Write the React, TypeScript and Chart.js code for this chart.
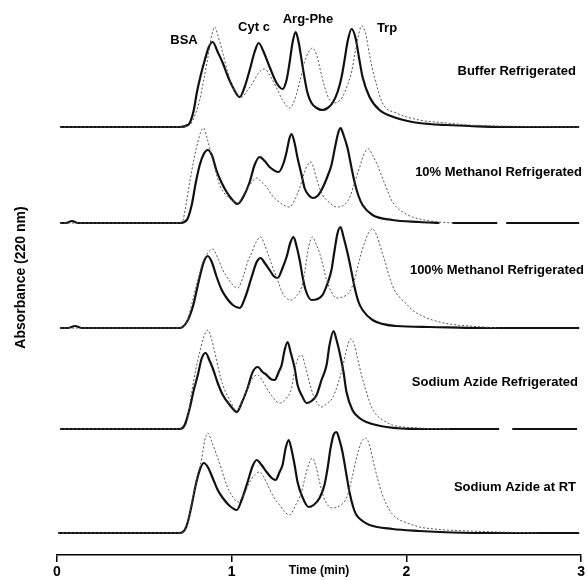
import React, { useEffect, useRef } from "react";
import { Chart, registerables } from "chart.js";

Chart.register(...registerables);

type P = [number, number | null];

// Trace names (right-hand labels) and peak names (top labels)
const traceNames = [
  "Buffer Refrigerated",
  "10% Methanol Refrigerated",
  "100% Methanol Refrigerated",
  "Sodium Azide Refrigerated",
  "Sodium Azide at RT",
];
const peakNames = ["BSA", "Cyt c", "Arg-Phe", "Trp"];

// vertical offsets of each stacked chromatogram (absorbance units)
const traceOffsets = [4.28, 3.32, 2.27, 1.26, 0.22];

const xTicks = [0, 1, 2, 3];

// [time (min), absorbance above baseline]
const bufferSolid: P[] = [
  [0.017, 0], [0.36, 0], [0.703, 0], [0.749, 0.02], [0.76, 0.04], [0.783, 0.17], [0.8, 0.34], [0.823, 0.52],
  [0.846, 0.67], [0.869, 0.8], [0.891, 0.85], [0.92, 0.75], [0.949, 0.64], [0.977, 0.51], [1.006, 0.4],
  [1.046, 0.3], [1.074, 0.4], [1.103, 0.57], [1.131, 0.75], [1.154, 0.84], [1.183, 0.75], [1.217, 0.6],
  [1.257, 0.44], [1.291, 0.38], [1.314, 0.47], [1.331, 0.64], [1.349, 0.85], [1.366, 0.95], [1.383, 0.85],
  [1.4, 0.67], [1.417, 0.49], [1.434, 0.34], [1.457, 0.24], [1.486, 0.19], [1.52, 0.17], [1.549, 0.19],
  [1.577, 0.24], [1.606, 0.35], [1.629, 0.5], [1.646, 0.67], [1.663, 0.85], [1.686, 0.98], [1.709, 0.89],
  [1.731, 0.67], [1.749, 0.5], [1.789, 0.3], [1.846, 0.17], [1.943, 0.09], [2.034, 0.05], [2.131, 0.03],
  [2.229, 0.02], [2.36, 0.01], [2.531, 0], [2.76, 0], [2.989, 0],
];
const bufferDotted: P[] = [
  [0.017, 0], [0.703, 0], [0.76, 0.02], [0.794, 0.14], [0.817, 0.27], [0.84, 0.47], [0.863, 0.69],
  [0.886, 0.92], [0.903, 1.0], [0.92, 0.92], [0.949, 0.74], [0.977, 0.55], [1.006, 0.4], [1.057, 0.3],
  [1.091, 0.37], [1.12, 0.44], [1.154, 0.54], [1.189, 0.58], [1.217, 0.52], [1.257, 0.39], [1.291, 0.27],
  [1.331, 0.19], [1.36, 0.27], [1.389, 0.45], [1.417, 0.65], [1.44, 0.75], [1.463, 0.79], [1.486, 0.72],
  [1.514, 0.52], [1.543, 0.34], [1.577, 0.24], [1.606, 0.25], [1.634, 0.3], [1.663, 0.42], [1.686, 0.55],
  [1.709, 0.77], [1.726, 0.92], [1.743, 1.01], [1.766, 0.94], [1.789, 0.72], [1.817, 0.5], [1.863, 0.24],
  [1.943, 0.14], [2.074, 0.07], [2.229, 0.04], [2.36, 0.02], [2.531, 0.01], [2.989, 0],
];

const methanol10Solid: P[] = [
  [0.017, 0], [0.051, 0], [0.086, 0.02], [0.12, 0], [0.703, 0], [0.743, 0.03], [0.771, 0.18], [0.794, 0.4],
  [0.817, 0.58], [0.84, 0.69], [0.863, 0.73], [0.886, 0.68], [0.914, 0.52], [0.943, 0.4], [0.971, 0.31],
  [1.0, 0.24], [1.034, 0.19], [1.069, 0.27], [1.103, 0.41], [1.131, 0.58], [1.16, 0.66], [1.189, 0.62],
  [1.217, 0.56], [1.269, 0.51], [1.297, 0.6], [1.314, 0.71], [1.331, 0.85], [1.343, 0.89], [1.36, 0.8],
  [1.377, 0.65], [1.4, 0.48], [1.417, 0.35], [1.44, 0.28], [1.463, 0.25], [1.491, 0.27], [1.52, 0.35],
  [1.549, 0.47], [1.571, 0.58], [1.594, 0.78], [1.611, 0.91], [1.623, 0.95], [1.64, 0.88], [1.663, 0.75],
  [1.686, 0.55], [1.703, 0.41], [1.726, 0.27], [1.749, 0.18], [1.806, 0.08], [1.92, 0.03], [2.074, 0.01],
  [2.189, 0], [2.226, null], [2.263, 0], [2.52, 0], [2.543, null], [2.571, 0], [2.989, 0],
];
const methanol10Dotted: P[] = [
  [0.017, 0], [0.703, 0], [0.72, 0.02], [0.731, 0.11], [0.76, 0.41], [0.783, 0.63], [0.806, 0.81],
  [0.823, 0.91], [0.84, 0.95], [0.857, 0.86], [0.874, 0.75], [0.903, 0.55], [0.931, 0.38], [0.971, 0.27],
  [1.0, 0.23], [1.034, 0.2], [1.063, 0.27], [1.091, 0.35], [1.12, 0.42], [1.143, 0.45], [1.171, 0.41],
  [1.2, 0.36], [1.229, 0.28], [1.257, 0.23], [1.297, 0.18], [1.331, 0.16], [1.36, 0.23], [1.389, 0.35],
  [1.417, 0.51], [1.434, 0.58], [1.451, 0.61], [1.469, 0.55], [1.491, 0.41], [1.52, 0.28], [1.543, 0.23],
  [1.577, 0.18], [1.6, 0.16], [1.634, 0.17], [1.674, 0.25], [1.703, 0.4], [1.731, 0.55], [1.76, 0.7],
  [1.783, 0.74], [1.806, 0.68], [1.834, 0.58], [1.863, 0.45], [1.886, 0.35], [1.914, 0.23], [1.943, 0.16],
  [1.989, 0.1], [2.034, 0.06], [2.103, 0.03], [2.189, 0.01], [2.274, 0],
];

const methanol100Solid: P[] = [
  [0.017, 0], [0.063, 0], [0.103, 0.02], [0.143, 0], [0.703, 0], [0.743, 0.06], [0.777, 0.21], [0.8, 0.38],
  [0.817, 0.51], [0.84, 0.66], [0.863, 0.72], [0.886, 0.66], [0.914, 0.51], [0.943, 0.38], [0.971, 0.3],
  [1.006, 0.23], [1.046, 0.2], [1.08, 0.32], [1.114, 0.51], [1.143, 0.66], [1.166, 0.7], [1.189, 0.65],
  [1.217, 0.58], [1.24, 0.52], [1.263, 0.5], [1.291, 0.6], [1.314, 0.71], [1.337, 0.86], [1.354, 0.91],
  [1.371, 0.82], [1.389, 0.68], [1.406, 0.51], [1.423, 0.38], [1.457, 0.28], [1.491, 0.29], [1.52, 0.33],
  [1.549, 0.45], [1.571, 0.58], [1.589, 0.78], [1.606, 0.95], [1.623, 1.01], [1.64, 0.91], [1.663, 0.75],
  [1.686, 0.56], [1.703, 0.41], [1.726, 0.26], [1.749, 0.18], [1.806, 0.08], [1.943, 0.02], [2.131, 0.01],
  [2.417, 0], [2.989, 0],
];
const methanol100Dotted: P[] = [
  [0.017, 0], [0.703, 0], [0.743, 0.06], [0.777, 0.28], [0.806, 0.48], [0.834, 0.65], [0.863, 0.75],
  [0.891, 0.79], [0.92, 0.7], [0.949, 0.58], [0.989, 0.47], [1.034, 0.4], [1.069, 0.53], [1.091, 0.66],
  [1.114, 0.75], [1.137, 0.85], [1.166, 0.91], [1.189, 0.83], [1.206, 0.75], [1.234, 0.61], [1.257, 0.51],
  [1.291, 0.35], [1.32, 0.29], [1.343, 0.28], [1.371, 0.32], [1.4, 0.41], [1.417, 0.55], [1.434, 0.75],
  [1.451, 0.88], [1.463, 0.91], [1.48, 0.85], [1.503, 0.75], [1.526, 0.6], [1.543, 0.48], [1.571, 0.36],
  [1.6, 0.3], [1.634, 0.31], [1.674, 0.36], [1.703, 0.48], [1.731, 0.68], [1.76, 0.85], [1.783, 0.95],
  [1.806, 0.99], [1.829, 0.93], [1.857, 0.78], [1.88, 0.65], [1.903, 0.51], [1.931, 0.38], [1.96, 0.31],
  [2.0, 0.24], [2.034, 0.18], [2.091, 0.12], [2.149, 0.08], [2.246, 0.04], [2.36, 0.02], [2.531, 0],
];

const azideRefSolid: P[] = [
  [0.017, 0], [0.703, 0], [0.731, 0.04], [0.76, 0.21], [0.783, 0.39], [0.806, 0.54], [0.829, 0.71],
  [0.851, 0.76], [0.874, 0.68], [0.891, 0.61], [0.92, 0.46], [0.949, 0.34], [0.989, 0.24], [1.029, 0.17],
  [1.057, 0.26], [1.091, 0.41], [1.12, 0.57], [1.149, 0.62], [1.177, 0.57], [1.2, 0.54], [1.223, 0.5],
  [1.246, 0.49], [1.269, 0.57], [1.286, 0.64], [1.303, 0.79], [1.32, 0.87], [1.337, 0.77], [1.36, 0.61],
  [1.377, 0.44], [1.4, 0.34], [1.429, 0.26], [1.457, 0.28], [1.486, 0.34], [1.514, 0.49], [1.543, 0.64],
  [1.56, 0.84], [1.583, 0.98], [1.6, 0.89], [1.617, 0.77], [1.64, 0.57], [1.657, 0.37], [1.691, 0.19],
  [1.731, 0.11], [1.771, 0.07], [1.886, 0.02], [2.074, 0], [2.531, 0], [2.565, null], [2.606, 0], [2.977, 0],
];
const azideRefDotted: P[] = [
  [0.017, 0], [0.703, 0], [0.743, 0.07], [0.771, 0.37], [0.794, 0.59], [0.817, 0.77], [0.84, 0.92],
  [0.863, 0.99], [0.886, 0.89], [0.903, 0.77], [0.926, 0.59], [0.949, 0.44], [0.989, 0.29], [1.029, 0.18],
  [1.057, 0.26], [1.091, 0.41], [1.12, 0.51], [1.149, 0.54], [1.177, 0.48], [1.2, 0.41], [1.234, 0.32],
  [1.274, 0.26], [1.314, 0.31], [1.343, 0.41], [1.36, 0.59], [1.383, 0.72], [1.4, 0.74], [1.417, 0.66],
  [1.434, 0.54], [1.457, 0.39], [1.474, 0.31], [1.514, 0.22], [1.549, 0.26], [1.577, 0.31], [1.606, 0.44],
  [1.634, 0.61], [1.657, 0.79], [1.68, 0.9], [1.703, 0.84], [1.72, 0.71], [1.743, 0.54], [1.771, 0.37],
  [1.8, 0.22], [1.829, 0.14], [1.874, 0.08], [1.92, 0.04], [2.074, 0.01], [2.246, 0],
];

const azideRtSolid: P[] = [
  [0.006, 0], [0.703, 0], [0.731, 0.03], [0.749, 0.11], [0.771, 0.28], [0.794, 0.48], [0.817, 0.63],
  [0.84, 0.7], [0.863, 0.66], [0.891, 0.55], [0.92, 0.43], [0.949, 0.35], [0.989, 0.27], [1.029, 0.23],
  [1.057, 0.33], [1.091, 0.51], [1.12, 0.67], [1.143, 0.73], [1.171, 0.68], [1.2, 0.61], [1.229, 0.55],
  [1.251, 0.53], [1.274, 0.61], [1.291, 0.68], [1.309, 0.85], [1.326, 0.93], [1.343, 0.83], [1.36, 0.68],
  [1.377, 0.51], [1.4, 0.38], [1.44, 0.26], [1.469, 0.28], [1.503, 0.35], [1.531, 0.48], [1.549, 0.65],
  [1.566, 0.85], [1.583, 0.98], [1.6, 1.01], [1.617, 0.93], [1.634, 0.81], [1.657, 0.58], [1.674, 0.41],
  [1.697, 0.25], [1.714, 0.18], [1.749, 0.12], [1.789, 0.08], [1.92, 0.04], [2.074, 0.02], [2.189, 0.01],
  [2.417, 0], [2.989, 0],
];
const azideRtDotted: P[] = [
  [0.006, 0], [0.703, 0], [0.743, 0.06], [0.777, 0.35], [0.806, 0.58], [0.829, 0.75], [0.846, 0.93],
  [0.863, 1.0], [0.886, 0.91], [0.914, 0.78], [0.943, 0.63], [0.971, 0.48], [1.0, 0.38], [1.034, 0.31],
  [1.069, 0.38], [1.103, 0.51], [1.131, 0.58], [1.16, 0.61], [1.183, 0.56], [1.206, 0.48], [1.24, 0.36],
  [1.274, 0.28], [1.303, 0.21], [1.331, 0.18], [1.366, 0.28], [1.4, 0.41], [1.423, 0.58], [1.446, 0.71],
  [1.463, 0.75], [1.48, 0.68], [1.503, 0.51], [1.526, 0.36], [1.549, 0.28], [1.577, 0.25], [1.617, 0.27],
  [1.657, 0.35], [1.686, 0.53], [1.714, 0.75], [1.743, 0.91], [1.766, 0.95], [1.789, 0.88], [1.806, 0.75],
  [1.834, 0.55], [1.863, 0.38], [1.903, 0.23], [1.943, 0.15], [2.006, 0.1], [2.074, 0.06], [2.16, 0.04],
  [2.229, 0.03], [2.36, 0.02], [2.531, 0.01], [2.76, 0],
];

const solidCurves = [bufferSolid, methanol10Solid, methanol100Solid, azideRefSolid, azideRtSolid];
const dottedCurves = [bufferDotted, methanol10Dotted, methanol100Dotted, azideRefDotted, azideRtDotted];

const FONT = '"Liberation Sans", Arial, Helvetica, sans-serif';

const labelPlugin = {
  id: "chromLabels",
  afterDatasetsDraw(chart: any) {
    const ctx = chart.ctx as CanvasRenderingContext2D;
    const peakPos = [
      [184, 40],
      [254, 27],
      [308, 19],
      [387, 28],
    ];
    const tracePos = [
      [576, 71],
      [582, 172],
      [584, 270],
      [578, 382],
      [576, 487],
    ];
    ctx.save();
    ctx.fillStyle = "#000";
    ctx.font = `bold 13px ${FONT}`;
    ctx.textBaseline = "middle";
    ctx.textAlign = "center";
    peakNames.forEach((t, i) => ctx.fillText(t, peakPos[i][0], peakPos[i][1]));
    ctx.textAlign = "right";
    traceNames.forEach((t, i) => ctx.fillText(t, tracePos[i][0], tracePos[i][1]));
    ctx.restore();
  },
};

export default function App() {
  const ref = useRef<HTMLCanvasElement | null>(null);

  useEffect(() => {
    document.body.style.margin = "0";
    const canvas = ref.current;
    if (!canvas) return;
    const toData = (curve: P[], off: number) =>
      curve.map(([t, a]) => ({ x: t, y: a === null ? null : a + off }));
    const datasets: any[] = [];
    traceNames.forEach((name, i) => {
      datasets.push({
        label: `${name} (dotted)`,
        data: toData(dottedCurves[i], traceOffsets[i]),
        borderColor: "#555",
        borderWidth: 1,
        borderDash: [2, 2],
        pointRadius: 0,
        fill: false,
        cubicInterpolationMode: "monotone",
        spanGaps: false,
      });
      datasets.push({
        label: `${name} (solid)`,
        data: toData(solidCurves[i], traceOffsets[i]),
        borderColor: "#111",
        borderWidth: 2.2,
        pointRadius: 0,
        fill: false,
        cubicInterpolationMode: "monotone",
        spanGaps: false,
      });
    });

    const chart = new Chart(canvas, {
      type: "line",
      data: { datasets },
      options: {
        animation: false,
        responsive: false,
        devicePixelRatio: 1,
        layout: { padding: { left: 0, right: 5, top: 0, bottom: 0 } },
        plugins: { legend: { display: false }, tooltip: { enabled: false } },
        scales: {
          x: {
            type: "linear",
            min: 0,
            max: 3,
            afterBuildTicks: (s: any) => {
              s.ticks = xTicks.map((v) => ({ value: v }));
            },
            afterFit: (s: any) => {
              s.height = 25;
            },
            ticks: {
              color: "#000",
              padding: 2,
              font: { family: FONT, size: 14, weight: "bold" },
              maxRotation: 0,
              callback: (v: any) => String(v),
            },
            grid: {
              display: true,
              drawOnChartArea: false,
              drawTicks: true,
              tickLength: 7,
              color: "#000",
              lineWidth: 1.5,
            },
            border: { display: true, color: "#000", width: 1.5 },
            title: {
              display: true,
              text: "Time (min)",
              color: "#000",
              font: { family: FONT, size: 12, weight: "bold" },
              padding: { top: 0, bottom: 2 },
            },
          },
          y: {
            type: "linear",
            min: 0,
            max: 5.55,
            afterFit: (s: any) => {
              s.width = 57;
            },
            ticks: { display: false },
            grid: { display: false },
            border: { display: false },
            title: {
              display: true,
              text: "Absorbance (220 nm)",
              color: "#000",
              font: { family: FONT, size: 14, weight: "bold" },
              padding: { top: 13, bottom: 0 },
            },
          },
        },
      },
      plugins: [labelPlugin],
    } as any);
    return () => chart.destroy();
  }, []);

  return (
    <div style={{ position: "absolute", left: 0, top: 0, width: 587, height: 580, background: "#fff" }}>
      <canvas ref={ref} width={587} height={580} />
    </div>
  );
}
